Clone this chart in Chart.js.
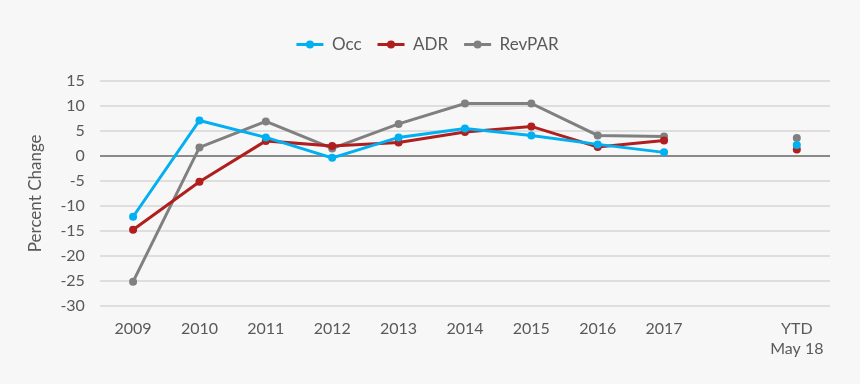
<!DOCTYPE html>
<html>
<head>
<meta charset="utf-8">
<script src="https://cdn.jsdelivr.net/npm/chart.js@4.4.1/dist/chart.umd.min.js"></script>
<style>
  html, body { margin: 0; padding: 0; background: #f7f7f7; }
  #wrap { width: 860px; height: 384px; }
</style>
</head>
<body>
<div id="wrap"><canvas id="chart" width="860" height="384"></canvas></div>
<script>
// categories (blank slot before YTD)
const years = ['2009', '2010', '2011', '2012', '2013', '2014', '2015', '2016', '2017', '', ['YTD', 'May 18']];

// percent change per series
const occ    = [-12.2, 7.1, 3.7, -0.4, 3.7, 5.5, 4.1, 2.3, 0.7, null, 2.2];
const adr    = [-14.8, -5.2, 3.0, 2.0, 2.7, 4.8, 5.9, 1.8, 3.1, null, 1.3];
const revpar = [-25.2, 1.7, 6.9, 1.5, 6.4, 10.5, 10.5, 4.1, 3.9, null, 3.6];

const yTicks = [15, 10, 5, 0, -5, -10, -15, -20, -25, -30];

const textCol = '#595959';
const font = "Lato, 'Open Sans', sans-serif";

// draws the dot in the middle of each legend line, and leaves more room under the legend
const legendDots = {
  id: 'legendDots',
  beforeInit(chart) {
    const lg = chart.legend;
    const fit = lg.fit;
    lg.fit = function () {
      fit.call(this);
      this.height += 18;
    };
  },
  afterDraw(chart) {
    const lg = chart.legend;
    if (!lg || !lg.legendHitBoxes) return;
    const c = chart.ctx;
    lg.legendHitBoxes.forEach((b, i) => {
      const ds = chart.data.datasets[i];
      c.save();
      c.fillStyle = ds.borderColor;
      c.beginPath();
      c.arc(b.left + lg.options.labels.boxWidth / 2, b.top + b.height / 2, 4, 0, Math.PI * 2);
      c.fill();
      c.restore();
    });
  }
};

function series(label, data, color) {
  return {
    label: label,
    data: data,
    borderColor: color,
    backgroundColor: color,
    borderWidth: 3,
    pointRadius: 4,
    pointHoverRadius: 4,
    pointBackgroundColor: color,
    pointBorderWidth: 0,
    spanGaps: false,
    tension: 0
  };
}

new Chart(document.getElementById('chart').getContext('2d'), {
  type: 'line',
  data: {
    labels: years,
    datasets: [
      series('Occ', occ, '#00b0f0'),
      series('ADR', adr, '#b01e1e'),
      series('RevPAR', revpar, '#808080')
    ]
  },
  options: {
    responsive: false,
    animation: false,
    layout: { padding: { top: 20, right: 30, left: 25, bottom: 12 } },
    plugins: {
      tooltip: { enabled: false },
      legend: {
        position: 'top',
        labels: {
          boxWidth: 27,
          boxHeight: 3,
          padding: 16,
          color: textCol,
          font: { family: font, size: 17 },
          generateLabels(chart) {
            return chart.data.datasets.map((ds, i) => ({
              text: ds.label,
              fillStyle: ds.borderColor,
              strokeStyle: ds.borderColor,
              lineWidth: 0,
              fontColor: textCol,
              datasetIndex: i
            }));
          }
        }
      }
    },
    scales: {
      x: {
        offset: true,
        grid: { display: false, drawTicks: false },
        border: { display: false },
        ticks: { color: textCol, font: { family: font, size: 16 }, padding: 14, maxRotation: 0, autoSkip: false }
      },
      y: {
        min: -30,
        max: 15,
        afterBuildTicks(axis) { axis.ticks = yTicks.map(v => ({ value: v })); },
        grid: {
          drawTicks: false,
          lineWidth: 2,
          color: ctx => ctx.tick && ctx.tick.value === 0 ? '#8a8a8a' : '#dedede'
        },
        border: { display: false },
        ticks: { color: textCol, font: { family: font, size: 16 }, padding: 15 },
        title: { display: true, text: 'Percent Change', color: textCol, font: { family: font, size: 17 }, padding: 0 }
      }
    }
  },
  plugins: [legendDots]
});
</script>
</body>
</html>
